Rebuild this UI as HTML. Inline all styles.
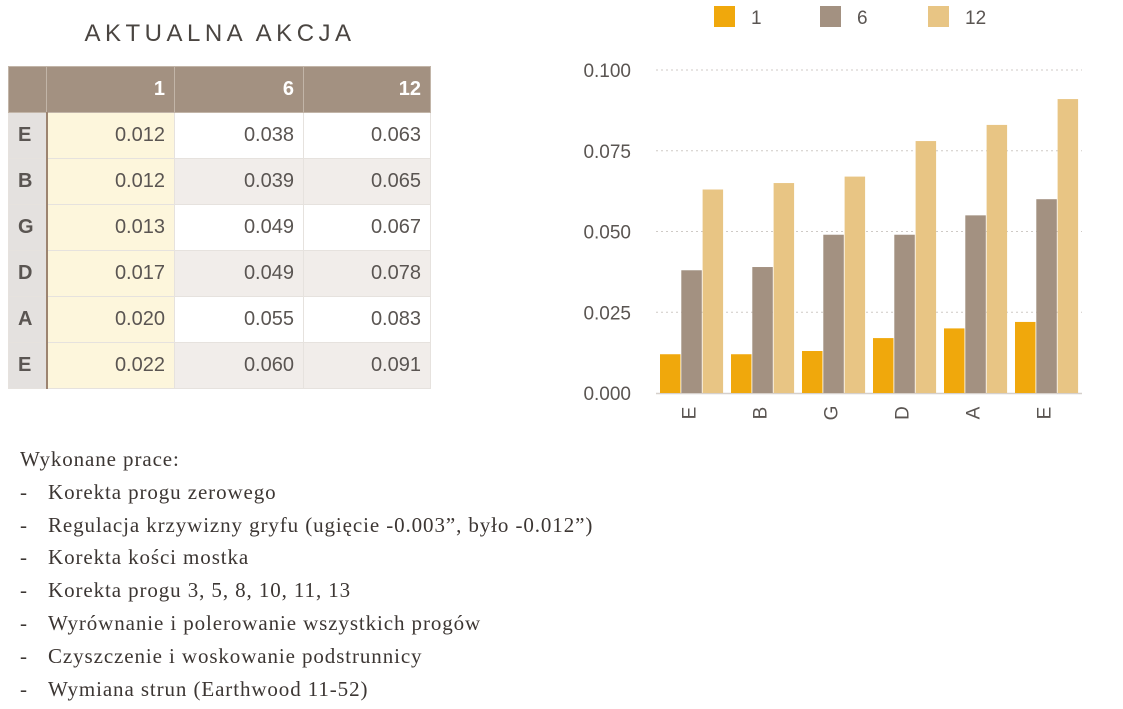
<!DOCTYPE html>
<html><head><meta charset="utf-8">
<style>
body{margin:0;width:1123px;height:709px;background:#fff;position:relative;overflow:hidden;font-family:"Liberation Sans",sans-serif;}
.title{position:absolute;left:0;width:440px;top:20px;text-align:center;font-size:24px;letter-spacing:4.5px;color:#4a4541;}
table{position:absolute;left:8px;top:66px;border-collapse:collapse;font-size:20px;color:#5a5552;table-layout:fixed;width:422px;}
td,th{height:46px;padding:0 9px;text-align:right;border:1px solid #e6e2de;box-sizing:border-box;}
th{background:#a39181;color:#fff;font-weight:bold;border-color:#c2b5a8;}
td.rh{background:#e4e1df;text-align:left;font-weight:bold;color:#5a5552;border-right:2px solid #9c8470;}
tr:nth-child(even) td{background:#fff}
tr:nth-child(odd) td{background:#f1edea}
tr td.c1{background:#fdf6dc !important}
tr td.rh{background:#e4e1df !important}
.notes{position:absolute;left:20px;top:443px;font-family:"Liberation Serif",serif;font-size:21px;letter-spacing:0.9px;color:#3c3633;line-height:32.8px;}
.notes .li{padding-left:28px;position:relative}
.notes .li:before{content:"-";position:absolute;left:0}
</style></head><body>
<div class="title">AKTUALNA AKCJA</div>
<table>
<colgroup><col style="width:38px"><col style="width:128px"><col style="width:129px"><col style="width:127px"></colgroup>
<tr><th></th><th>1</th><th>6</th><th>12</th></tr>
<tr><td class="rh">E</td><td class="c1">0.012</td><td>0.038</td><td>0.063</td></tr>
<tr><td class="rh">B</td><td class="c1">0.012</td><td>0.039</td><td>0.065</td></tr>
<tr><td class="rh">G</td><td class="c1">0.013</td><td>0.049</td><td>0.067</td></tr>
<tr><td class="rh">D</td><td class="c1">0.017</td><td>0.049</td><td>0.078</td></tr>
<tr><td class="rh">A</td><td class="c1">0.020</td><td>0.055</td><td>0.083</td></tr>
<tr><td class="rh">E</td><td class="c1">0.022</td><td>0.060</td><td>0.091</td></tr>
</table>
<div class="notes">
<div>Wykonane prace:</div>
<div class="li">Korekta progu zerowego</div>
<div class="li">Regulacja krzywizny gryfu (ugięcie -0.003”, było -0.012”)</div>
<div class="li">Korekta kości mostka</div>
<div class="li">Korekta progu 3, 5, 8, 10, 11, 13</div>
<div class="li">Wyrównanie i polerowanie wszystkich progów</div>
<div class="li">Czyszczenie i woskowanie podstrunnicy</div>
<div class="li">Wymiana strun (Earthwood 11-52)</div>
</div>
<svg id="chart" width="1123" height="709" style="position:absolute;left:0;top:0"></svg>
<script>
const categories=["E","B","G","D","A","E"];
const seriesNames=["1","6","12"];
const s1=[0.012,0.012,0.013,0.017,0.020,0.022];
const s6=[0.038,0.039,0.049,0.049,0.055,0.060];
const s12=[0.063,0.065,0.067,0.078,0.083,0.091];
const yTicks=[0,0.025,0.05,0.075,0.1];
const tickLabels=["0.000","0.025","0.050","0.075","0.100"];
const colors=["#f0a80c","#a39181","#e8c584"];
const ns="http://www.w3.org/2000/svg";
const svg=document.getElementById('chart');
const X0=656,X1=1082,Y0=393,Y1=70;
const y=v=>Y0-(v/0.1)*(Y0-Y1);
const band=(X1-X0)/categories.length;
const x=i=>X0+i*band;
function mk(t,a){const e=document.createElementNS(ns,t);for(const k in a)e.setAttribute(k,a[k]);svg.appendChild(e);return e;}
yTicks.forEach((v,i)=>{
 if(v>0){const l=mk('line',{x1:X0,x2:X1,y1:y(v),y2:y(v),stroke:'#cfcac6','stroke-dasharray':'2,3'});
 
 }
 const t=mk('text',{x:631,y:y(v)+7,'text-anchor':'end','font-size':19,fill:'#5a5552','font-family':'Liberation Sans, sans-serif'});
 t.textContent=tickLabels[i];
 
 
});
const base=mk('line',{x1:X0,x2:X1,y1:Y0+0.5,y2:Y0+0.5,stroke:'#d6d0cb','stroke-width':1.5});


const series=[s1,s6,s12];
const bw=20.5,gap=0.8,off=4;
categories.forEach((c,i)=>{
 series.forEach((s,j)=>{
  const bx=x(i)+off+j*(bw+gap);
  const r=mk('rect',{x:bx,y:y(s[i]),width:bw,height:Y0-y(s[i]),fill:colors[j]});
  
  
 });
 const cx=x(i)+off+1.5*bw+gap;
 const t=mk('text',{x:0,y:0,'font-size':19,fill:'#5a5552','text-anchor':'middle','font-family':'Liberation Sans, sans-serif',transform:`translate(${cx+4},${413}) rotate(-90)`});
 t.textContent=c;
 
 
});
const legX=[714,820,928];
seriesNames.forEach((n,j)=>{
 const r=mk('rect',{x:legX[j],y:6,width:21,height:21,fill:colors[j]});
 
 
 const t=mk('text',{x:legX[j]+37,y:24,'font-size':19,fill:'#5a5552','font-family':'Liberation Sans, sans-serif'});
 t.textContent=n;
 
 
});
</script>
</body></html>
